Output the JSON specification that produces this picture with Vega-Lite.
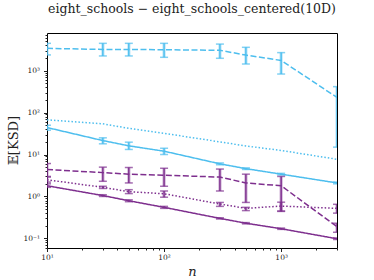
{
  "$schema": "https://vega.github.io/schema/vega-lite/v6.json",
  "width": 290,
  "height": 215,
  "autosize": "none",
  "padding": {"left": 47, "top": 33, "right": 37, "bottom": 32},
  "background": "white",
  "config": {
    "view": {"stroke": "black", "strokeWidth": 1},
    "font": "DejaVu Serif, serif",
    "title": {"font": "DejaVu Serif, serif", "fontSize": 12.5, "fontWeight": "normal", "color": "#222"}
  },
  "title": {
    "text": "eight_schools − eight_schools_centered(10D)",
    "font": "DejaVu Serif, serif",
    "fontSize": 12.5,
    "fontWeight": "normal",
    "anchor": "middle",
    "baseline": "alphabetic",
    "offset": 6,
    "color": "#222"
  },
  "data": {
    "values": [
      {"n": 10, "method": "A", "style": "dashed", "val": 3400, "lo": 2370, "hi": 4480},
      {"n": 30, "method": "A", "style": "dashed", "val": 3200, "lo": 2240, "hi": 4480},
      {"n": 50, "method": "A", "style": "dashed", "val": 3200, "lo": 2240, "hi": 4480},
      {"n": 100, "method": "A", "style": "dashed", "val": 3150, "lo": 2080, "hi": 4480},
      {"n": 300, "method": "A", "style": "dashed", "val": 3050, "lo": 1970, "hi": 4300},
      {"n": 500, "method": "A", "style": "dashed", "val": 2350, "lo": 1440, "hi": 3600},
      {"n": 1000, "method": "A", "style": "dashed", "val": 1750, "lo": 830, "hi": 2690},
      {"n": 3000, "method": "A", "style": "dashed", "val": 230, "lo": 15, "hi": 415},

      {"n": 10, "method": "A", "style": "dotted", "val": 67, "lo": null, "hi": null},
      {"n": 30, "method": "A", "style": "dotted", "val": 54, "lo": null, "hi": null},
      {"n": 50, "method": "A", "style": "dotted", "val": 42, "lo": null, "hi": null},
      {"n": 100, "method": "A", "style": "dotted", "val": 32, "lo": null, "hi": null},
      {"n": 300, "method": "A", "style": "dotted", "val": 20, "lo": null, "hi": null},
      {"n": 500, "method": "A", "style": "dotted", "val": 16, "lo": null, "hi": null},
      {"n": 1000, "method": "A", "style": "dotted", "val": 12.5, "lo": null, "hi": null},
      {"n": 3000, "method": "A", "style": "dotted", "val": 7.7, "lo": null, "hi": null},

      {"n": 10, "method": "A", "style": "solid", "val": 44, "lo": 38, "hi": 50},
      {"n": 30, "method": "A", "style": "solid", "val": 21.5, "lo": 18, "hi": 25},
      {"n": 50, "method": "A", "style": "solid", "val": 16.1, "lo": 13.2, "hi": 19.7},
      {"n": 100, "method": "A", "style": "solid", "val": 12, "lo": 10, "hi": 14.1},
      {"n": 300, "method": "A", "style": "solid", "val": 6.0, "lo": 5.7, "hi": 6.3},
      {"n": 500, "method": "A", "style": "solid", "val": 4.6, "lo": 4.4, "hi": 4.8},
      {"n": 1000, "method": "A", "style": "solid", "val": 3.4, "lo": 3.25, "hi": 3.55},
      {"n": 3000, "method": "A", "style": "solid", "val": 2.1, "lo": 2.0, "hi": 2.2},

      {"n": 10, "method": "B", "style": "dashed", "val": 4.4, "lo": 3.0, "hi": 6.1},
      {"n": 30, "method": "B", "style": "dashed", "val": 3.7, "lo": 2.3, "hi": 5.0},
      {"n": 50, "method": "B", "style": "dashed", "val": 3.4, "lo": 2.1, "hi": 4.9},
      {"n": 100, "method": "B", "style": "dashed", "val": 3.2, "lo": 1.75, "hi": 4.7},
      {"n": 300, "method": "B", "style": "dashed", "val": 2.9, "lo": 1.35, "hi": 4.5},
      {"n": 500, "method": "B", "style": "dashed", "val": 2.1, "lo": 0.72, "hi": 3.4},
      {"n": 1000, "method": "B", "style": "dashed", "val": 1.8, "lo": 0.45, "hi": 3.0},
      {"n": 3000, "method": "B", "style": "dashed", "val": 0.19, "lo": 0.14, "hi": 0.23},

      {"n": 10, "method": "B", "style": "dotted", "val": 2.5, "lo": 2.2, "hi": 2.9},
      {"n": 30, "method": "B", "style": "dotted", "val": 1.65, "lo": 1.55, "hi": 1.75},
      {"n": 50, "method": "B", "style": "dotted", "val": 1.3, "lo": 1.17, "hi": 1.45},
      {"n": 100, "method": "B", "style": "dotted", "val": 1.16, "lo": 0.96, "hi": 1.35},
      {"n": 300, "method": "B", "style": "dotted", "val": 0.66, "lo": 0.58, "hi": 0.72},
      {"n": 500, "method": "B", "style": "dotted", "val": 0.52, "lo": 0.46, "hi": 0.55},
      {"n": 1000, "method": "B", "style": "dotted", "val": 0.59, "lo": 0.44, "hi": 0.73},
      {"n": 3000, "method": "B", "style": "dotted", "val": 0.52, "lo": 0.40, "hi": 0.65},

      {"n": 10, "method": "B", "style": "solid", "val": 1.8, "lo": 1.65, "hi": 2.0},
      {"n": 30, "method": "B", "style": "solid", "val": 1.05, "lo": 1.0, "hi": 1.1},
      {"n": 50, "method": "B", "style": "solid", "val": 0.79, "lo": 0.75, "hi": 0.83},
      {"n": 100, "method": "B", "style": "solid", "val": 0.55, "lo": 0.52, "hi": 0.58},
      {"n": 300, "method": "B", "style": "solid", "val": 0.30, "lo": 0.29, "hi": 0.31},
      {"n": 500, "method": "B", "style": "solid", "val": 0.23, "lo": 0.222, "hi": 0.238},
      {"n": 1000, "method": "B", "style": "solid", "val": 0.17, "lo": 0.164, "hi": 0.176},
      {"n": 3000, "method": "B", "style": "solid", "val": 0.098, "lo": 0.094, "hi": 0.102}
    ]
  },
  "encoding": {
    "x": {
      "field": "n",
      "type": "quantitative",
      "scale": {"type": "log", "domain": [10, 3000], "nice": false},
      "axis": {
        "title": "n",
        "titleFont": "DejaVu Serif, serif",
        "titleFontStyle": "italic",
        "titleFontWeight": "normal",
        "titleFontSize": 13,
        "titleBaseline": "alphabetic",
        "titleY": 27,
        "titleColor": "#222",
        "values": [10, 20, 30, 40, 50, 60, 70, 80, 90, 100, 200, 300, 400, 500, 600, 700, 800, 900, 1000, 2000, 3000],
        "labelExpr": "datum.value == 10 ? '10¹' : datum.value == 100 ? '10²' : datum.value == 1000 ? '10³' : ''",
        "labelFont": "DejaVu Serif, serif",
        "labelFontSize": 7.5,
        "labelColor": "#222",
        "labelOverlap": false,
        "labelBound": false,
        "labelFlush": false,
        "labelPadding": 2,
        "tickSize": {"condition": {"test": "datum.value == 10 || datum.value == 100 || datum.value == 1000", "value": 3.5}, "value": 2},
        "tickColor": "#222",
        "grid": false,
        "domain": false
      }
    },
    "y": {
      "field": "val",
      "type": "quantitative",
      "scale": {"type": "log", "domain": [0.059, 7900], "nice": false},
      "axis": {
        "title": "𝔼[KSD]",
        "titleFont": "DejaVu Serif, serif",
        "titleFontWeight": "normal",
        "titleFontSize": 13,
        "titleColor": "#222",
        "titleX": -34,
        "titleY": 107,
        "titleAngle": -90,
        "titleAlign": "center",
        "titleBaseline": "middle",
        "values": [0.06, 0.07, 0.08, 0.09, 0.1, 0.2, 0.3, 0.4, 0.5, 0.6, 0.7, 0.8, 0.9, 1, 2, 3, 4, 5, 6, 7, 8, 9, 10, 20, 30, 40, 50, 60, 70, 80, 90, 100, 200, 300, 400, 500, 600, 700, 800, 900, 1000, 2000, 3000, 4000, 5000, 6000, 7000],
        "labelExpr": "datum.value == 0.1 ? '10⁻¹' : datum.value == 1 ? '10⁰' : datum.value == 10 ? '10¹' : datum.value == 100 ? '10²' : datum.value == 1000 ? '10³' : ''",
        "labelFont": "DejaVu Serif, serif",
        "labelFontSize": 7.5,
        "labelColor": "#222",
        "labelOverlap": false,
        "labelBound": false,
        "labelFlush": false,
        "labelPadding": 4,
        "tickSize": {"condition": {"test": "datum.value == 0.1 || datum.value == 1 || datum.value == 10 || datum.value == 100 || datum.value == 1000", "value": 3.5}, "value": 2},
        "tickColor": "#222",
        "grid": false,
        "domain": false
      }
    },
    "color": {
      "field": "method",
      "type": "nominal",
      "scale": {"domain": ["A", "B"], "range": ["#4DBEEE", "#7E2F8E"]},
      "legend": null
    }
  },
  "layer": [
    {
      "mark": {"type": "line", "strokeWidth": 1.5, "clip": true},
      "encoding": {
        "strokeDash": {
          "field": "style",
          "type": "nominal",
          "scale": {"domain": ["solid", "dashed", "dotted"], "range": [[1, 0], [6, 2.5], [1.5, 2]]},
          "legend": null
        },
        "detail": {"field": "style"}
      }
    },
    {
      "transform": [{"filter": "datum.lo != null"}],
      "mark": {"type": "rule", "strokeWidth": 3.5, "opacity": 0.3, "clip": true},
      "encoding": {
        "y": {"field": "lo", "type": "quantitative"},
        "y2": {"field": "hi"},
        "detail": {"field": "style"}
      }
    },
    {
      "transform": [{"filter": "datum.lo != null"}],
      "mark": {"type": "errorbar", "ticks": {"size": 8, "strokeWidth": 1.5}, "thickness": 1.5, "clip": true},
      "encoding": {
        "y": {"field": "lo", "type": "quantitative"},
        "y2": {"field": "hi"},
        "detail": {"field": "style"}
      }
    }
  ]
}
